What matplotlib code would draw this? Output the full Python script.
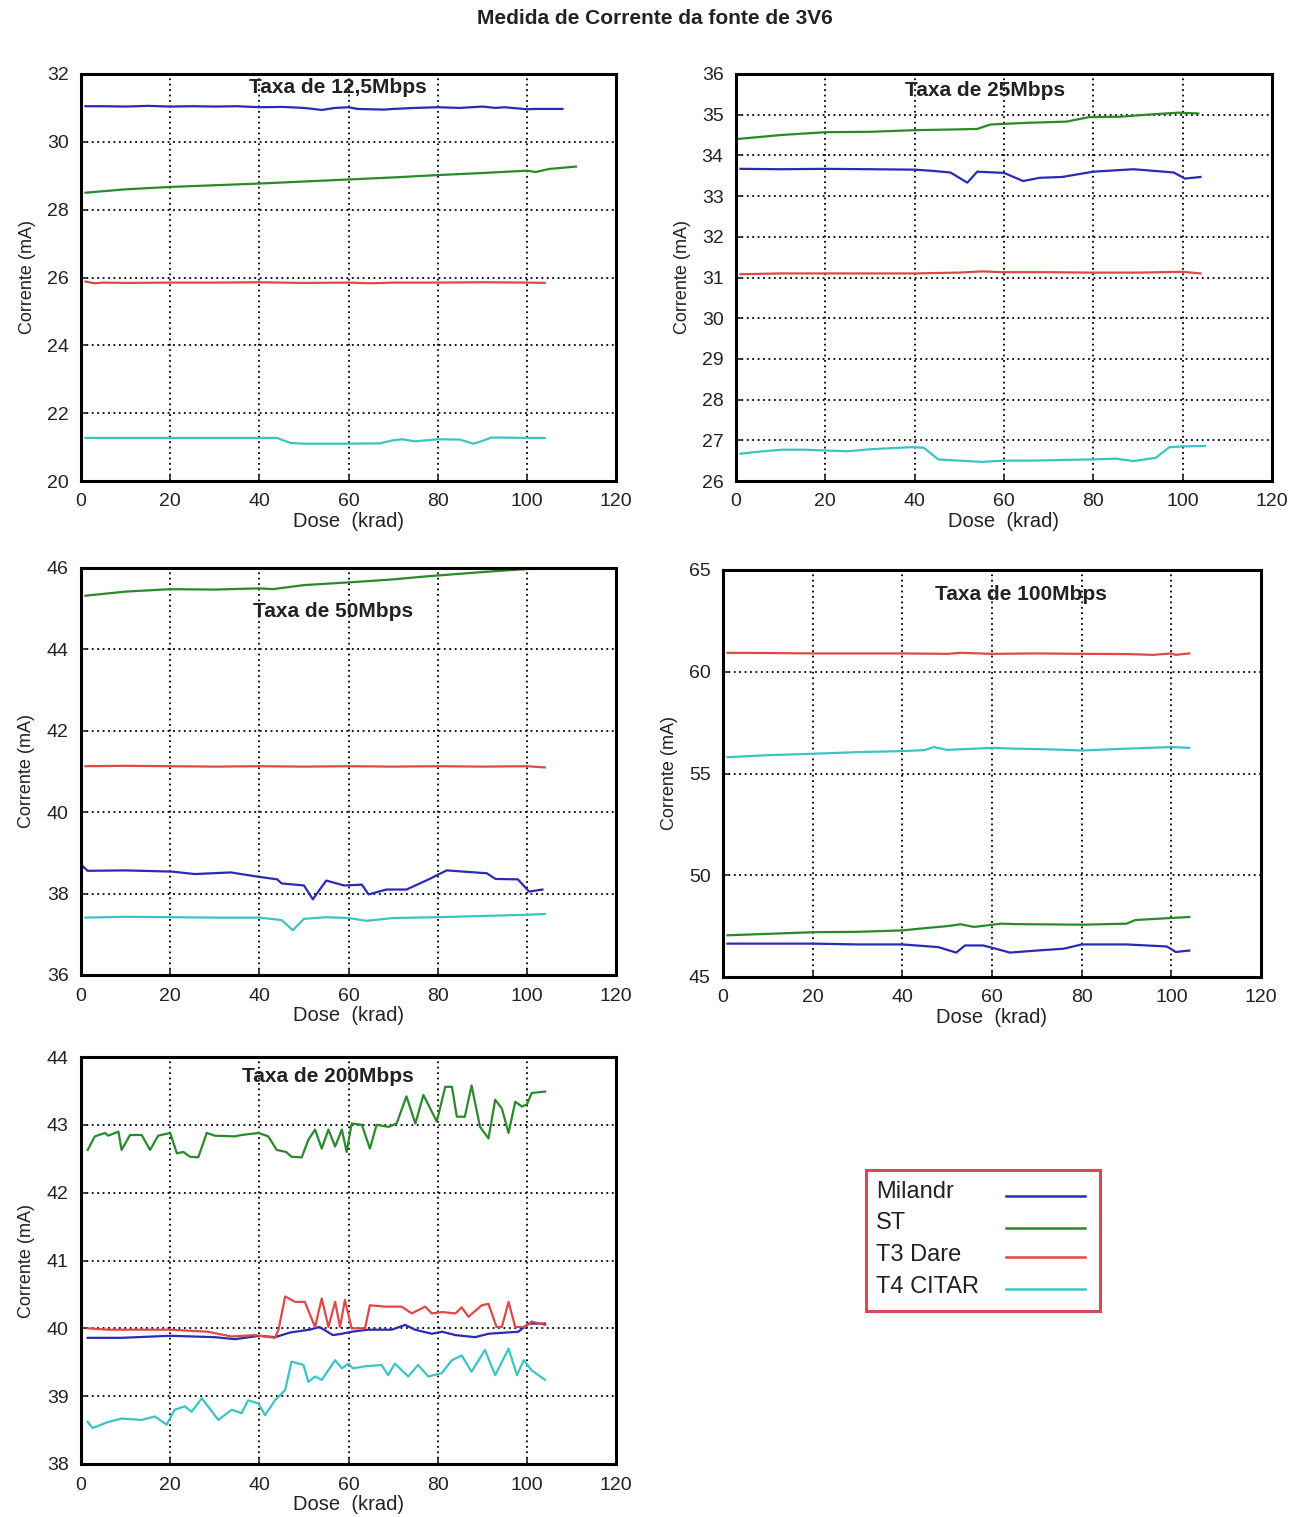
import matplotlib
matplotlib.use("Agg")
import matplotlib.pyplot as plt
from matplotlib.lines import Line2D
from matplotlib.patches import Rectangle

plt.rcParams['font.family'] = ['Liberation Sans', 'DejaVu Sans']

# ---------------- data ----------------
series_names = ["Milandr", "ST", "T3 Dare", "T4 CITAR"]
series_colors = ["#2a2ab4", "#2a8a2a", "#e04848", "#3cc4c4"]

# 12,5 Mbps
p1_mil_x = [1, 5, 10, 15, 20, 25, 30, 35, 40, 45, 50, 54, 57, 60, 62, 65, 68, 70, 75, 80, 85, 90, 93, 95, 100, 102, 108]
p1_mil_y = [31.05, 31.05, 31.04, 31.06, 31.04, 31.05, 31.04, 31.05, 31.02, 31.03, 31.0, 30.94, 31.0, 31.02, 30.97, 30.96, 30.95, 30.97, 31.0, 31.02, 31.0, 31.04, 31.0, 31.02, 30.96, 30.97, 30.97]
p1_st_x = [1, 10, 20, 30, 40, 50, 60, 70, 80, 90, 100, 102, 105, 111]
p1_st_y = [28.5, 28.6, 28.67, 28.72, 28.77, 28.83, 28.89, 28.95, 29.02, 29.08, 29.15, 29.11, 29.2, 29.27]
p1_t3_x = [1, 3, 5, 10, 20, 30, 40, 50, 60, 65, 70, 80, 90, 100, 104]
p1_t3_y = [25.88, 25.83, 25.85, 25.84, 25.85, 25.85, 25.86, 25.84, 25.85, 25.83, 25.85, 25.85, 25.86, 25.85, 25.84]
p1_t4_x = [1, 10, 20, 30, 40, 44, 47, 50, 60, 67, 70, 72, 75, 80, 85, 88, 90, 92, 95, 100, 104]
p1_t4_y = [21.27, 21.27, 21.27, 21.27, 21.27, 21.27, 21.12, 21.1, 21.1, 21.11, 21.2, 21.23, 21.17, 21.23, 21.22, 21.1, 21.18, 21.28, 21.28, 21.27, 21.27]

# 25 Mbps
p2_mil_x = [1, 10, 20, 30, 40, 44, 48, 51.8, 54, 60, 64.3, 68, 73, 80, 89, 98, 100.5, 104]
p2_mil_y = [33.67, 33.66, 33.67, 33.66, 33.65, 33.62, 33.58, 33.33, 33.6, 33.57, 33.37, 33.45, 33.47, 33.6, 33.66, 33.58, 33.43, 33.47]
p2_st_x = [0, 10, 20, 30, 40, 50, 54, 57, 65, 74, 79, 86, 92, 99, 103.5]
p2_st_y = [34.4, 34.5, 34.57, 34.58, 34.62, 34.64, 34.65, 34.76, 34.8, 34.83, 34.94, 34.95, 35.0, 35.05, 35.03]
p2_t3_x = [1, 10, 20, 30, 40, 50, 55, 60, 70, 80, 90, 100, 104]
p2_t3_y = [31.08, 31.1, 31.1, 31.1, 31.1, 31.12, 31.15, 31.13, 31.13, 31.12, 31.12, 31.14, 31.1]
p2_t4_x = [1, 5, 10.5, 15, 20, 25, 30, 39, 42, 45.3, 50, 55, 60, 66, 74, 80, 85, 89, 94, 97, 100, 105]
p2_t4_y = [26.67, 26.72, 26.77, 26.77, 26.75, 26.73, 26.78, 26.83, 26.82, 26.53, 26.5, 26.47, 26.5, 26.5, 26.52, 26.53, 26.55, 26.49, 26.57, 26.83, 26.85, 26.86]

# 50 Mbps
p3_mil_x = [0.5, 1.5, 10, 20.5, 25.5, 33.6, 40, 44, 45, 50, 52, 55, 59, 63, 64.5, 68.5, 73, 78, 82, 91, 93, 98, 100.5, 103.5]
p3_mil_y = [38.66, 38.56, 38.57, 38.54, 38.48, 38.52, 38.41, 38.35, 38.25, 38.2, 37.86, 38.32, 38.2, 38.22, 37.98, 38.1, 38.1, 38.35, 38.57, 38.5, 38.36, 38.35, 38.05, 38.1]
p3_st_x = [1, 10, 20, 30, 40, 43, 50, 62, 70, 77, 90, 96.5, 104]
p3_st_y = [45.32, 45.42, 45.48, 45.47, 45.5, 45.48, 45.58, 45.66, 45.72, 45.79, 45.9, 45.95, 46.0]
p3_t3_x = [1, 10, 20, 30, 40, 50, 60, 70, 80, 90, 100, 104]
p3_t3_y = [41.13, 41.14, 41.13, 41.12, 41.13, 41.12, 41.13, 41.12, 41.13, 41.12, 41.13, 41.1]
p3_t4_x = [1, 10, 20, 30, 40, 45, 47.5, 50, 55, 60, 64, 70, 80, 90, 100, 104]
p3_t4_y = [37.41, 37.43, 37.42, 37.41, 37.41, 37.35, 37.1, 37.38, 37.42, 37.4, 37.33, 37.4, 37.42, 37.45, 37.48, 37.5]

# 100 Mbps
p4_mil_x = [1, 10, 20, 30, 40, 48, 52, 54, 58, 60, 64, 70, 76, 80, 90, 99, 101, 104]
p4_mil_y = [46.64, 46.64, 46.64, 46.6, 46.6, 46.47, 46.2, 46.55, 46.55, 46.44, 46.2, 46.3, 46.39, 46.6, 46.6, 46.5, 46.23, 46.3]
p4_st_x = [1, 10, 20, 30, 40, 45, 50, 53, 56, 62, 65, 80, 90, 92, 100, 104]
p4_st_y = [47.05, 47.12, 47.2, 47.22, 47.29, 47.4, 47.5, 47.59, 47.46, 47.62, 47.6, 47.57, 47.62, 47.8, 47.9, 47.95]
p4_t3_x = [1, 10, 20, 30, 40, 50, 53, 60, 70, 80, 90, 96, 100, 101, 104]
p4_t3_y = [60.93, 60.92, 60.9, 60.9, 60.9, 60.88, 60.93, 60.88, 60.9, 60.88, 60.87, 60.83, 60.9, 60.83, 60.9]
p4_t4_x = [1, 10, 20, 30, 40, 45, 47, 50, 60, 65, 70, 75, 80, 90, 100, 104]
p4_t4_y = [55.8, 55.9, 55.97, 56.05, 56.1, 56.15, 56.3, 56.16, 56.26, 56.22, 56.2, 56.17, 56.13, 56.22, 56.3, 56.26]

# 200 Mbps
p5_mil_x = [1.5, 9, 20, 30, 34.5, 40, 43.5, 47, 51.3, 53.5, 56.5, 58.5, 60.7, 64.4, 69.7, 72.7, 74.9, 78.7, 81, 84, 88.4, 91.4, 98.1, 100.4, 104.1]
p5_mil_y = [39.86, 39.86, 39.89, 39.87, 39.84, 39.89, 39.87, 39.94, 39.98, 40.02, 39.9, 39.92, 39.95, 39.98, 39.98, 40.05, 39.98, 39.92, 39.95, 39.9, 39.87, 39.92, 39.95, 40.07, 40.07]
p5_st_x = [1.5, 3.1, 5.4, 6.1, 8.4, 9.1, 11, 13.6, 15.5, 17.3, 20, 21.5, 23, 24.4, 26.3, 28.2, 30, 34.5, 36, 39.8, 42, 43.9, 46, 47.2, 49.5,
           51, 52.5, 54, 55.5, 57, 58.5, 59.6, 60.7, 63, 64.8, 66.3, 69, 70.8, 73, 75, 76.8, 79.8, 81.7, 83.2, 84.3, 86.1, 87.6,
           89.5, 91.4, 92.9, 94.4, 95.9, 97.4, 98.9, 100, 101.1, 104.1]
p5_st_y = [42.63, 42.83, 42.88, 42.84, 42.9, 42.63, 42.85, 42.85, 42.63, 42.84, 42.88, 42.58, 42.6, 42.53, 42.52, 42.88, 42.84, 42.83, 42.85, 42.88, 42.83, 42.63, 42.6, 42.53, 42.52,
           42.78, 42.93, 42.65, 42.93, 42.68, 42.93, 42.6, 43.02, 43.0, 42.65, 43.0, 42.97, 43.02, 43.42, 43.02, 43.44, 43.05, 43.56, 43.56, 43.12, 43.12, 43.58,
           42.97, 42.8, 43.37, 43.24, 42.88, 43.34, 43.27, 43.3, 43.47, 43.49]
p5_t3_x = [1.5, 6.1, 20, 28.4, 33.8, 39, 43.5, 44.3, 45.8, 48, 50.2, 52.5, 54, 55.5, 57, 58.1, 59.2, 60.7, 63.7, 64.8, 68.2, 71.9, 74.2, 77.2, 78.7,
           81, 84, 85.4, 86.9, 89.9, 91.4, 93.2, 94.4, 95.9, 97.4, 99.6, 101.1, 104.1]
p5_t3_y = [40.0, 39.98, 39.98, 39.95, 39.88, 39.9, 39.86, 39.98, 40.47, 40.39, 40.39, 40.02, 40.44, 40.02, 40.39, 40.02, 40.42, 40.0, 40.0, 40.34, 40.32, 40.32, 40.22, 40.32, 40.22,
           40.24, 40.22, 40.31, 40.17, 40.34, 40.36, 40.02, 40.02, 40.39, 40.02, 40.02, 40.1, 40.05]
p5_t4_x = [1.5, 2.6, 6.1, 9.1, 13.6, 16.6, 19.2, 21, 23.3, 24.8, 27.1, 30.8, 33.8, 36, 37.5, 39.8, 41.3, 43.5, 45.8, 47.2, 49.9, 51, 52.5, 54,
           57, 58.5, 60, 61, 63.7, 67.4, 68.9, 70.4, 73.4, 75.6, 77.9, 80.9, 83.2, 85.4, 87.6, 90.6, 92.9, 95.9, 97.8, 99.3, 101.1, 104.1]
p5_t4_y = [38.62, 38.53, 38.62, 38.67, 38.65, 38.7, 38.58, 38.8, 38.85, 38.77, 38.97, 38.65, 38.8, 38.75, 38.94, 38.89, 38.72, 38.94, 39.09, 39.51, 39.46, 39.21, 39.29, 39.24,
           39.53, 39.41, 39.48, 39.41, 39.44, 39.46, 39.31, 39.48, 39.29, 39.46, 39.29, 39.34, 39.53, 39.6, 39.36, 39.68, 39.31, 39.7, 39.31, 39.53, 39.38, 39.24]

panel_titles = ["Taxa de 12,5Mbps", "Taxa de 25Mbps", "Taxa de 50Mbps", "Taxa de 100Mbps", "Taxa de 200Mbps"]
panel_ylims = [(20, 32), (26, 36), (36, 46), (45, 65), (38, 44)]
panel_ysteps = [2, 1, 2, 5, 1]
x_ticks = [0, 20, 40, 60, 80, 100, 120]
fig_title = "Medida de Corrente da fonte de 3V6"
x_label = "Dose  (krad)"
y_label = "Corrente (mA)"

panel_data = [
    [(p1_mil_x, p1_mil_y), (p1_st_x, p1_st_y), (p1_t3_x, p1_t3_y), (p1_t4_x, p1_t4_y)],
    [(p2_mil_x, p2_mil_y), (p2_st_x, p2_st_y), (p2_t3_x, p2_t3_y), (p2_t4_x, p2_t4_y)],
    [(p3_mil_x, p3_mil_y), (p3_st_x, p3_st_y), (p3_t3_x, p3_t3_y), (p3_t4_x, p3_t4_y)],
    [(p4_mil_x, p4_mil_y), (p4_st_x, p4_st_y), (p4_t3_x, p4_t3_y), (p4_t4_x, p4_t4_y)],
    [(p5_mil_x, p5_mil_y), (p5_st_x, p5_st_y), (p5_t3_x, p5_t3_y), (p5_t4_x, p5_t4_y)],
]

# ---------------- layout ----------------
W, H = 1301, 1517
fig = plt.figure(figsize=(W / 100, H / 100), dpi=100)
fig.patch.set_facecolor("white")

def frac(l, t, r, b):
    return [l / W, 1 - b / H, (r - l) / W, (b - t) / H]

axes_px = [(81, 74, 616, 481), (736, 74, 1272, 481), (81, 568, 616, 975), (723, 570, 1261, 977), (81, 1057, 616, 1464)]
title_pos = [(0.48, 0.968), (0.465, 0.96), (0.471, 0.894), (0.554, 0.941), (0.462, 0.953)]

for i in range(5):
    ax = fig.add_axes(frac(*axes_px[i]))
    for (xs, ys), c in zip(panel_data[i], series_colors):
        ax.plot(xs, ys, color=c, lw=1.6, solid_joinstyle="round")
    lo, hi = panel_ylims[i]
    ax.set_xlim(0, 120)
    ax.set_ylim(lo, hi)
    ax.set_xticks(x_ticks)
    ax.set_yticks(list(range(lo, hi + 1, panel_ysteps[i])))
    ax.grid(True, color="black", linestyle=(0, (1, 2.0)), linewidth=1.3)
    for s in ax.spines.values():
        s.set_linewidth(2.2)
        s.set_color("black")
    ax.tick_params(direction="in", length=5, width=1.2, labelsize=14, pad=9, colors="#222222")
    ax.set_xlabel(x_label, fontsize=14.5, labelpad=1, color="#222222")
    ax.set_ylabel(y_label, fontsize=13, labelpad=8, color="#222222")
    ax.text(title_pos[i][0], title_pos[i][1], panel_titles[i], transform=ax.transAxes,
            ha="center", va="center", fontsize=15, fontweight="bold", color="#222222")

fig.text(655 / W, 1 - 18 / H, fig_title, ha="center", va="center", fontsize=15, fontweight="bold", color="#222222")

# ---------------- legend ----------------
lax = fig.add_axes(frac(866, 1170, 1100, 1311))
lax.set_xlim(0, 1)
lax.set_ylim(0, 1)
lax.axis("off")
lax.add_patch(Rectangle((0, 0), 1, 1, transform=lax.transAxes, fill=False, edgecolor="#d84858", linewidth=2.2, clip_on=False))
text_y = [0.844, 0.624, 0.397, 0.170]
line_y = [0.816, 0.589, 0.383, 0.156]
for name, c, ty, ly in zip(series_names, series_colors, text_y, line_y):
    lax.text(0.043, ty, name, ha="left", va="center", fontsize=17, color="#222222")
    lax.add_line(Line2D([0.598, 0.936], [ly, ly], color=c, lw=1.8))

fig.savefig("out.png", dpi=100, facecolor="white")
